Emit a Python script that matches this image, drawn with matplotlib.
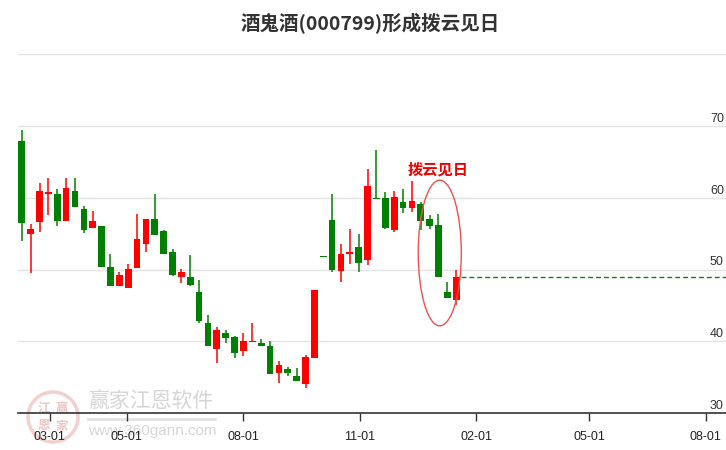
import numpy as np
import pandas as pd
import matplotlib
matplotlib.use("Agg")
import matplotlib.pyplot as plt
from matplotlib.patches import Ellipse
from matplotlib.transforms import blended_transform_factory

plt.rcParams['font.family'] = ['Liberation Sans', 'Noto Sans CJK SC', 'DejaVu Sans']

### DATA (weekly candles)
title = "酒鬼酒(000799)形成拨云见日"
signal_label = "拨云见日"

opens = [67.9, 54.9, 56.6, 60.5, 60.5, 56.8, 61.0, 58.5, 55.8, 56.0,
         50.3, 47.7, 47.4, 50.2, 53.5, 57.1, 55.3, 52.4, 48.9, 49.0,
         46.8, 42.6, 38.9, 41.2, 40.6, 38.6, 39.9, 39.8, 39.4, 35.6,
         36.2, 35.2, 34.0, 37.7, 51.75, 56.9, 49.8, 52.1, 53.1, 51.3,
         59.9, 59.9, 55.5, 59.4, 58.6, 59.1, 57.0, 56.2, 46.8, 45.7]
highs = [69.4, 56.3, 62.0, 62.7, 61.2, 62.7, 62.7, 58.8, 58.1, 56.0,
         52.1, 49.6, 50.8, 57.8, 57.1, 60.5, 55.5, 52.9, 50.1, 52.0,
         48.5, 43.6, 42.0, 41.6, 40.8, 41.2, 42.6, 40.3, 40.1, 37.3,
         36.4, 36.3, 38.1, 47.1, 51.75, 60.5, 53.5, 55.7, 54.9, 64.0,
         66.6, 60.8, 60.9, 61.2, 62.4, 59.4, 57.6, 57.7, 48.2, 49.9]
lows = [54.0, 49.5, 55.2, 57.6, 56.1, 56.8, 58.7, 55.1, 55.8, 50.3,
        47.7, 47.7, 47.4, 50.2, 52.4, 54.8, 52.1, 49.1, 48.1, 47.7,
        42.6, 39.3, 36.9, 39.8, 37.6, 38.0, 39.9, 39.3, 35.5, 34.2,
        35.2, 34.4, 33.5, 37.6, 51.7, 49.6, 48.2, 50.7, 49.6, 50.6,
        59.8, 55.6, 55.2, 57.9, 58.0, 55.5, 55.7, 48.9, 46.0, 45.1]
closes = [56.5, 55.7, 60.9, 60.8, 56.8, 61.3, 58.7, 55.5, 56.7, 50.3,
          47.7, 49.2, 50.1, 54.3, 57.1, 54.8, 52.1, 49.3, 49.7, 47.8,
          42.8, 39.4, 41.5, 40.5, 38.4, 40.0, 40.1, 39.3, 35.5, 36.7,
          35.6, 34.4, 37.8, 47.1, 51.7, 49.9, 52.2, 52.5, 50.9, 61.7,
          59.8, 55.8, 60.1, 58.6, 59.5, 56.8, 56.1, 48.9, 46.0, 49.0]
dates = pd.date_range("2024-02-08", periods=len(opens), freq="7D")

tick_dates = pd.to_datetime(["2024-03-01", "2024-05-01", "2024-08-01", "2024-11-01",
                             "2025-02-01", "2025-05-01", "2025-08-01"])
y_ticks = [30, 40, 50, 60, 70, 80]

### PLOT
fig = plt.figure(figsize=(7.26, 4.5), dpi=100)
ax = fig.add_axes([18 / 726, 37 / 450, 708 / 726, 358.7 / 450])
ax.patch.set_alpha(0)

up_col, down_col = '#ff0000', '#008000'
o = np.array(opens); h = np.array(highs); l = np.array(lows); c = np.array(closes)
cols = [up_col if cc > oo else down_col for oo, cc in zip(o, c)]
body_w = pd.Timedelta(days=5.3)

ax.vlines(dates, l, h, colors=cols, linewidth=1.1, zorder=3)
ax.bar(dates, np.maximum(np.abs(c - o), 0.2), bottom=np.minimum(o, c),
       width=body_w, color=cols, linewidth=0, zorder=4)

# last close dashed line
ax.hlines(c[-1], dates[-1] + pd.Timedelta(days=4), pd.Timestamp("2025-08-20"),
          colors='#1a7a1a', linestyles=(0, (3.5, 2.2)), linewidth=1, zorder=2)

# signal ellipse + label
ax.add_patch(Ellipse((dates[-3] + pd.Timedelta(days=1), 52.3), width=34, height=20.3,
                     fill=False, edgecolor='#f05050', linewidth=1, zorder=5))
ax.text(dates[-3], 64.0, signal_label, color='#ee0000', fontsize=11, fontweight='bold',
        family=['Noto Sans CJK SC', 'DejaVu Sans'], ha='center', va='center', zorder=6)

ax.set_xlim(pd.Timestamp("2024-02-05"), pd.Timestamp("2025-08-17"))
ax.set_ylim(30, 80)

# grid + right-side labels sitting on the lines
for yv in y_ticks[1:]:
    ax.axhline(yv, color='#e3e3e3', linewidth=1, zorder=1)
trans = blended_transform_factory(ax.transAxes, ax.transData)
for yv in y_ticks[:-1]:
    ax.text(0.997, yv + 0.15, str(yv), transform=trans, ha='right', va='bottom',
            fontsize=9, color='#333333')

ax.set_yticks([])
ax.set_xticks(tick_dates)
ax.set_xticklabels([d.strftime('%m-%d') for d in tick_dates], fontsize=9, color='#222222')
ax.tick_params(axis='x', direction='out', length=6, width=1, color='#333333', pad=7)
for s in ['top', 'right', 'left']:
    ax.spines[s].set_visible(False)
ax.spines['bottom'].set_color('#333333')
ax.spines['bottom'].set_linewidth(1.2)

fig.text(370 / 726, 1 - 24 / 450, title, ha='center', va='center', fontsize=14,
         fontweight='bold', color='#333333', family=['Noto Sans CJK SC', 'DejaVu Sans'])

# watermark
fig.text(88 / 726, 1 - 401 / 450, "赢家江恩软件", ha='left', va='center', fontsize=15,
         color='#d6d6d6', family=['Noto Sans CJK SC'], zorder=-1)
fig.text(88 / 726, 1 - 431 / 450, "www.360gann.com", ha='left', va='center', fontsize=11,
         color='#d6d6d6', zorder=-1)
fig.add_artist(plt.Line2D([88 / 726, 215 / 726], [1 - 419 / 450, 1 - 419 / 450],
                          color='#e2e2e2', linewidth=2, zorder=-1))
fig.add_artist(Ellipse((53 / 726, 1 - 417 / 450), 50 / 726, 50 / 450, transform=fig.transFigure,
                       fill=False, edgecolor='#f3d0d0', linewidth=2.5, zorder=-1))
for ch, (px, py) in zip("江赢恩家", [(44, 408), (62, 408), (44, 426), (62, 426)]):
    fig.text(px / 726, 1 - py / 450, ch, ha='center', va='center', fontsize=9,
             fontweight='bold', color='#efc4c4', family=['Noto Sans CJK SC'], zorder=-1)

fig.savefig("out.png", dpi=100, facecolor='white')
